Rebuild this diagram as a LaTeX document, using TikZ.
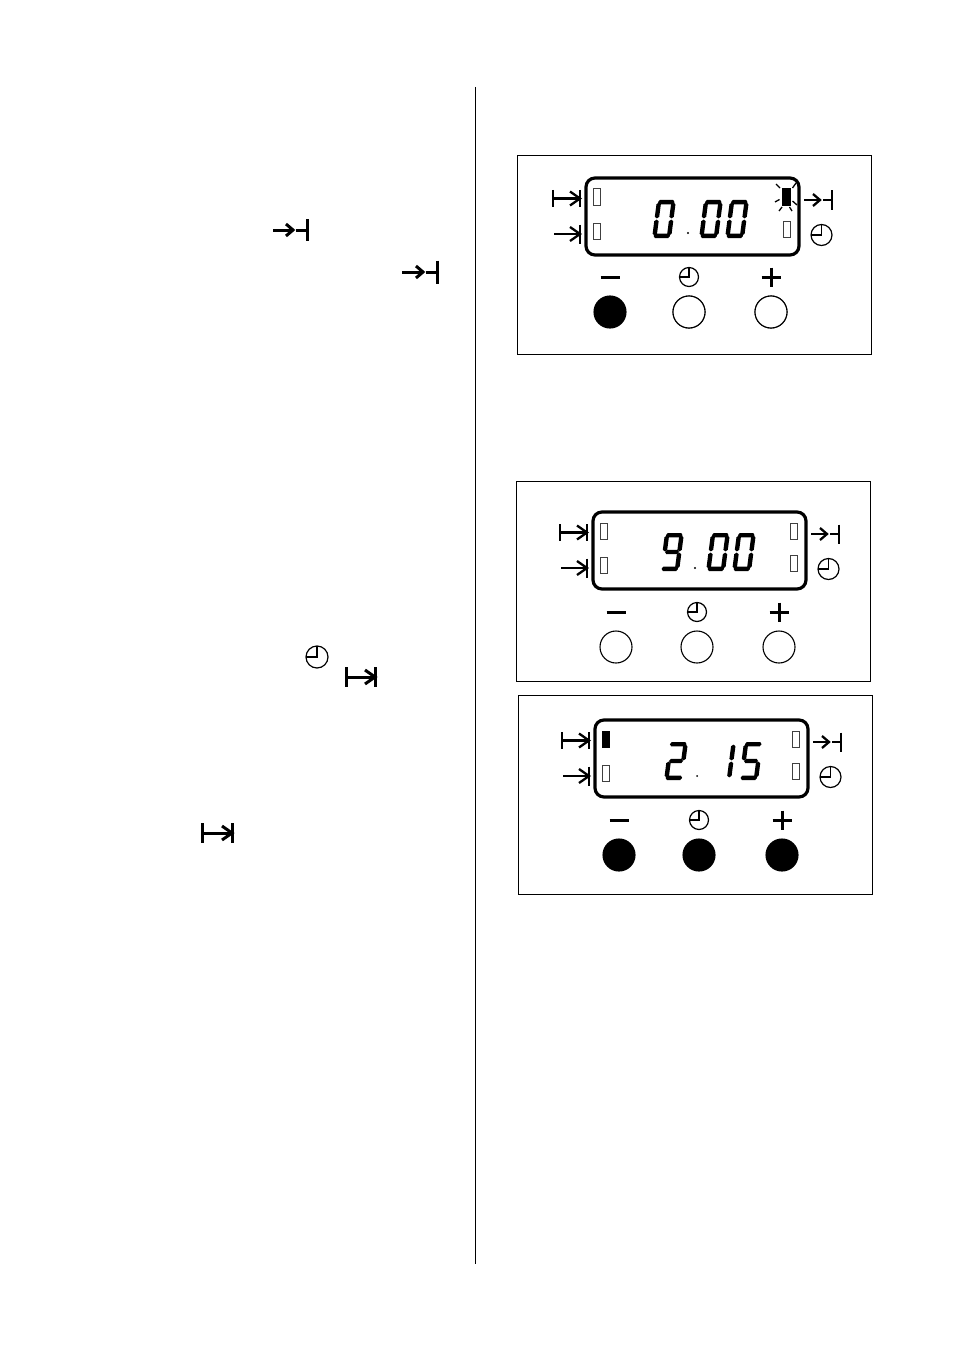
\documentclass[tikz,border=0pt]{standalone}
\tikzset{
  x=1pt,y=-1pt,
  panelbox/.style={draw=black,line width=1pt,fill=white},
  lcdbox/.style={draw=black,line width=3.2pt,rounded corners=9pt},
  symline/.style={draw=black,line width=2.3pt,line cap=butt},
  pagesym/.style={draw=black,line width=3pt,line cap=butt},
  clockline/.style={draw=black,line width=1.2pt},
  signline/.style={draw=black,line width=3pt},
  indicator/.style={draw=black!75,line width=1pt,fill=white},
  indicatoron/.style={draw=black,line width=1pt,fill=black},
  raysline/.style={draw=black,line width=1.3pt},
  btnoff/.style={draw=black,line width=1.1pt,fill=white},
  btnon/.style={draw=black,line width=1.1pt,fill=black},
  segfill/.style={fill=black},
  rule/.style={draw=black,line width=1.1pt},
  dotmark/.style={fill=black},
}
% seven-segment pieces, local coordinates: 19 wide, 38 high
\newcommand\hseg[3]{\fill[segfill] (#1,#3)--(#1+1.6,#3-2.2)--(#2-1.6,#3-2.2)--(#2,#3)--(#2-1.6,#3+2.2)--(#1+1.6,#3+2.2)--cycle;}
\newcommand\vseg[3]{\fill[segfill] (#3,#1)--(#3+2.2,#1+1.6)--(#3+2.2,#2-1.6)--(#3,#2)--(#3-2.2,#2-1.6)--(#3-2.2,#1+1.6)--cycle;}
\newcommand\segA{\hseg{1.2}{17.8}{2.2}}
\newcommand\segB{\vseg{2.6}{18.4}{16.8}}
\newcommand\segC{\vseg{19.6}{35.4}{16.8}}
\newcommand\segD{\hseg{1.2}{17.8}{35.8}}
\newcommand\segE{\vseg{19.6}{35.4}{2.2}}
\newcommand\segF{\vseg{2.6}{18.4}{2.2}}
\newcommand\segG{\hseg{2.5}{16.5}{19}}
\newcommand\sevenseg[3]{% x of upper-left (unslanted), y top, segments
  \begin{scope}[shift={(#1,#2)},xslant=0.13]
    \foreach \sname in {#3}{\csname seg\sname\endcsname}
  \end{scope}}
% |-->| symbol: x1, x2, ymid, half height, style
\newcommand\symstart[5]{%
  \draw[#5] (#1,#3-#4)--(#1,#3+#4) (#1,#3)--(#2,#3) (#2,#3-#4)--(#2,#3+#4);
  \draw[#5] (#2-10,#3-7)--(#2,#3)--(#2-10,#3+7);}
% --> | symbol on left of the display: x1, x2, ymid, half height, style
\newcommand\symcook[5]{%
  \draw[#5] (#1,#3)--(#2,#3) (#2,#3-#4)--(#2,#3+#4);
  \draw[#5] (#2-10,#3-7)--(#2,#3)--(#2-10,#3+7);}
% ->-| symbol: x1, tip, bar, ymid, half height, style
\newcommand\symfinish[6]{%
  \draw[#6] (#1,#4)--(#2,#4) (#2+3,#4)--(#3,#4) (#3,#4-#5)--(#3,#4+#5);
  \draw[#6] (#2-7,#4-6)--(#2,#4)--(#2-7,#4+6);}
\newcommand\symclock[3]{%
  \draw[clockline] (#1,#2) circle[radius=#3];
  \draw[clockline] (#1-#3,#2)--(#1,#2)--(#1,#2-#3-0.5);}
% panel: box x1,y1,x2,y2 ; display x,y
\newcommand\panelframe[6]{%
  \draw[panelbox] (#1,#2) rectangle (#3,#4);
  \draw[lcdbox] (#5,#6) rectangle (#5+213,#6+77);
  \symstart{#5-33}{#5-6}{#6+20.5}{8.5}{symline}
  \symcook{#5-32}{#5-6}{#6+56}{9.5}{symline}
  \symfinish{#5+218}{#5+234}{#5+246}{#6+22}{9.5}{symline}
  \symclock{#5+235.5}{#6+57}{10.5}
  \draw[indicator] (#5+7,#6+45) rectangle (#5+14.5,#6+61);
  \draw[indicator] (#5+197,#6+43) rectangle (#5+204.5,#6+59.5);
}
\newcommand\panelkeys[6]{% minus x, clock x, plus x, sign y, button y, button style
  \draw[signline] (#1-9.5,#4)--(#1+9.5,#4);
  \symclock{#2}{#4}{9.5}
  \draw[signline] (#3-9.5,#4)--(#3+9.5,#4) (#3,#4-9.5)--(#3,#4+9.5);
  \draw[#6] (#1,#5) circle[radius=16];
  \draw[#6] (#2,#5) circle[radius=16];
  \draw[#6] (#3,#5) circle[radius=16];
}
\begin{document}
\begin{tikzpicture}
\useasboundingbox[fill=white] (0,0) rectangle (954,1351);
% column rule
\coordinate (ruletop) at (475.5,87);
\coordinate (rulebot) at (475.5,1264);
\draw[rule] (ruletop)--(rulebot);
% symbols in the text column
\symfinish{273}{293}{307}{230}{11}{pagesym}
\symfinish{402}{423}{437}{272}{11.5}{pagesym}
\symclock{317}{657}{11}
\symstart{346}{375}{677}{10}{pagesym}
\symstart{202}{232}{833}{10}{pagesym}
% panel 1
\panelframe{517.5}{155.5}{871.5}{354.5}{586}{178}
\draw[indicator] (593,189) rectangle (600.5,205);
\draw[indicatoron] (782.5,189) rectangle (790,205);
\draw[raysline] (776,184)--(780,188) (775,202)--(779.5,199.5) (779,211)--(782,207)
  (796,183)--(792.5,188) (797,205)--(792.5,201) (792,211)--(789.5,207);
\sevenseg{657}{200}{A,B,C,D,E,F}
\sevenseg{704}{200}{A,B,C,D,E,F}
\sevenseg{730}{200}{A,B,C,D,E,F}
\fill[dotmark] (688,233) circle[radius=1.2];
\panelkeys{610}{689}{771}{277}{312}{btnon}
\draw[btnoff] (689,312) circle[radius=16];
\draw[btnoff] (771,312) circle[radius=16];
% panel 2
\panelframe{516.5}{481.5}{870.5}{681.5}{593}{512}
\draw[indicator] (600,523) rectangle (607.5,539);
\draw[indicator] (790,523) rectangle (797.5,539);
\sevenseg{665}{533}{A,B,C,D,F,G}
\sevenseg{711}{533}{A,B,C,D,E,F}
\sevenseg{737}{533}{A,B,C,D,E,F}
\fill[dotmark] (695,568) circle[radius=1.2];
\panelkeys{616}{697}{779}{612}{647}{btnoff}
% panel 3
\panelframe{518.5}{695.5}{872.5}{894.5}{595}{720}
\draw[indicatoron] (602,731) rectangle (609.5,747);
\draw[indicator] (792,731) rectangle (799.5,747);
\sevenseg{669}{742}{A,B,G,E,D}
\sevenseg{717}{742}{B,C}
\sevenseg{744}{742}{A,F,G,C,D}
\fill[dotmark] (697,776) circle[radius=1];
\panelkeys{619}{699}{782}{820}{855}{btnon}
\end{tikzpicture}
\end{document}
